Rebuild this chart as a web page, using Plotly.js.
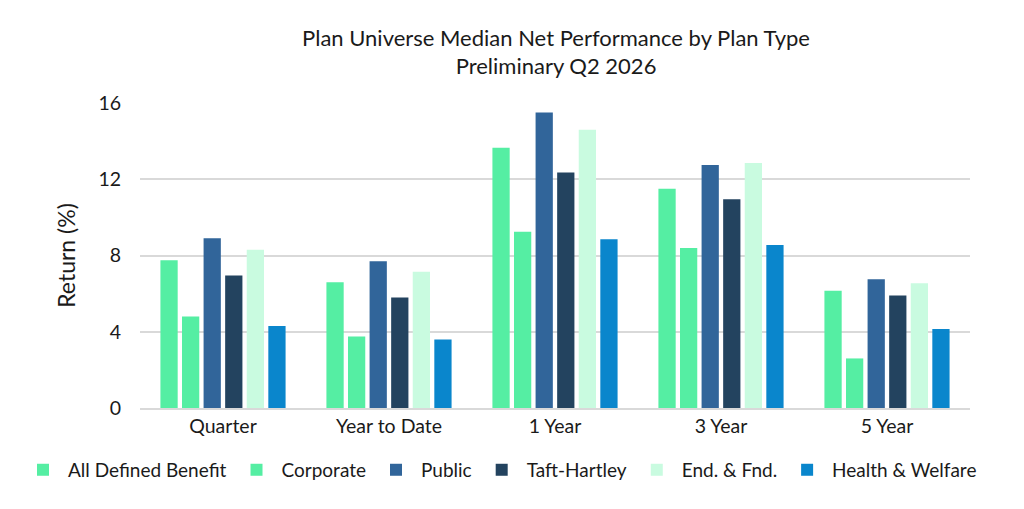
<!DOCTYPE html>
<html>
<head>
<meta charset="utf-8">
<script src="https://cdn.plot.ly/plotly-3.0.1.min.js"></script>
<style>
  body { margin: 0; background: #ffffff; }
  #chart { width: 1024px; height: 509px; }
</style>
</head>
<body>
<div id="chart"></div>
<script>
// Periods along the x axis
const periods = ['Quarter', 'Year to Date', '1 Year', '3 Year', '5 Year'];

// Median net returns (%) per plan type
const allDefinedBenefit = [7.75, 6.6, 13.65, 11.5, 6.15];
const corporate = [4.8, 3.75, 9.25, 8.4, 2.6];
const publicPlans = [8.9, 7.7, 15.5, 12.75, 6.75];
const taftHartley = [6.95, 5.8, 12.35, 10.95, 5.9];
const endFnd = [8.3, 7.15, 14.6, 12.85, 6.55];
const healthWelfare = [4.3, 3.6, 8.85, 8.55, 4.15];

const seriesNames = ['All Defined Benefit', 'Corporate', 'Public', 'Taft-Hartley', 'End. & Fnd.', 'Health & Welfare'];
const seriesValues = [allDefinedBenefit, corporate, publicPlans, taftHartley, endFnd, healthWelfare];
const seriesColors = ['#55eea3', '#55eea3', '#31659a', '#23435f', '#c9fbe0', '#0a86cc'];

const fontFamily = 'Lato, "Open Sans", sans-serif';

let data = [];
for (let i = 0; i < seriesNames.length; i++) {
  data.push({
    type: 'bar',
    name: seriesNames[i],
    x: periods,
    y: seriesValues[i],
    marker: {color: seriesColors[i], line: {width: 0}},
    hoverinfo: 'name+y'
  });
}

const layout = {
  width: 1024,
  height: 509,
  paper_bgcolor: '#ffffff',
  plot_bgcolor: '#ffffff',
  font: {family: fontFamily, size: 19, color: '#1a1a1a'},
  margin: {l: 140, r: 54, t: 103, b: 101},
  barmode: 'group',
  bargap: 0.22,
  bargroupgap: 0.2,
  title: {
    text: 'Plan Universe Median Net Performance by Plan Type<br>Preliminary Q2 2026',
    font: {family: fontFamily, size: 22, color: '#1a1a1a'},
    x: 0.543,
    xanchor: 'center',
    y: 0.91,
    yanchor: 'top'
  },
  xaxis: {
    showgrid: false,
    showline: true,
    linecolor: '#d9d9d9',
    linewidth: 2,
    ticks: '',
    tickfont: {size: 19.5}
  },
  yaxis: {
    range: [0, 16],
    tickvals: [0, 4, 8, 12, 16],
    gridcolor: '#d9d9d9',
    gridwidth: 2,
    zeroline: false,
    showline: false,
    ticks: '',
    ticklabelstandoff: 18,
    tickfont: {size: 19.5},
    title: {text: 'Return (%)', font: {size: 23}, standoff: 16}
  },
  legend: {
    orientation: 'h',
    x: -0.147,
    xanchor: 'left',
    y: -0.203,
    yanchor: 'middle',
    font: {size: 19},
    itemwidth: 40,
    traceorder: 'normal'
  }
};

Plotly.newPlot('chart', data, layout, {displayModeBar: false, staticPlot: true});
</script>
</body>
</html>
